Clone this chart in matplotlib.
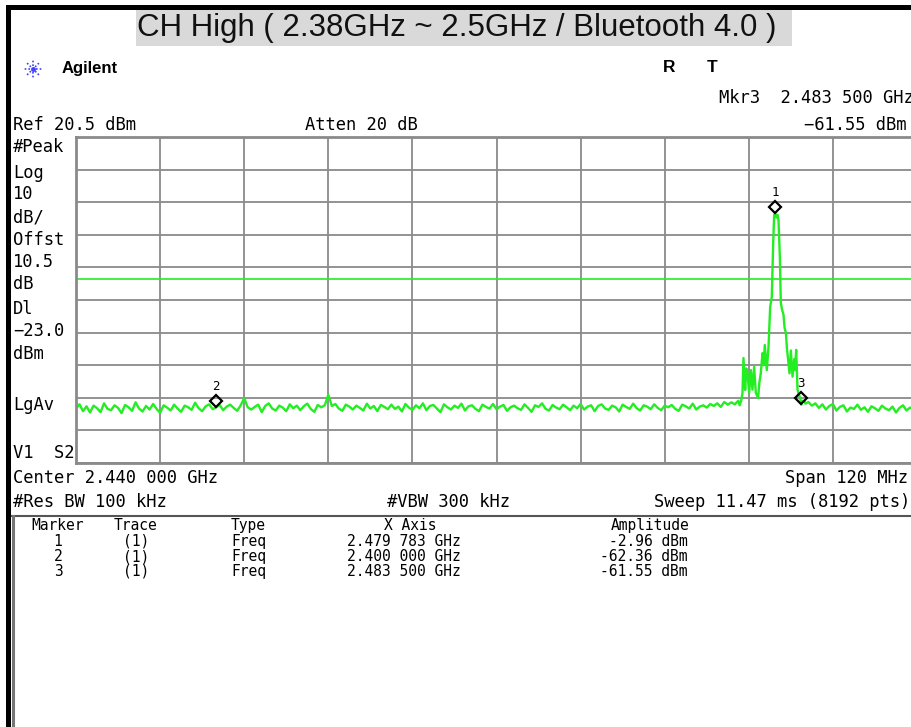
import numpy as np
import matplotlib
matplotlib.use("Agg")
import matplotlib.pyplot as plt
from matplotlib import transforms
from matplotlib.patches import Rectangle

# --- DATA ---
TITLE = "CH High ( 2.38GHz ~ 2.5GHz / Bluetooth 4.0 )"
START_MHZ = 2380.0
STOP_MHZ = 2500.0
REF_DBM = 20.5
DB_PER_DIV = 10
DISPLAY_LINE_DBM = -23.0

# noise floor left of the carrier, 0.5 MHz steps
floor_left_mhz = np.arange(2380.0, 2475.0, 0.5)
floor_left_dbm = [
    -62.8, -61.5, -63.6, -62.1, -64.0, -61.9, -62.7, -63.9, -61.2, -62.9,
    -63.3, -61.8, -62.6, -64.2, -61.7, -62.4, -63.5, -60.9, -62.8, -63.7,
    -62.0, -63.1, -61.4, -62.9, -64.1, -61.8, -62.5, -63.4, -61.6, -62.8,
    -63.8, -61.9, -62.4, -63.2, -61.0, -62.7, -63.6, -62.1, -61.5, -63.0,
    -62.4, -61.7, -63.3, -62.2, -61.6, -62.6, -63.5, -61.8, -59.6, -62.4,
    -63.1, -62.3, -61.6, -63.9, -62.0, -61.2, -62.8, -63.4, -61.9, -62.5,
    -63.6, -61.5, -62.7, -61.9, -63.3, -62.1, -61.3, -62.9, -63.8, -61.7,
    -62.4, -61.8, -58.6, -62.0, -61.4, -62.8, -63.5, -61.6, -62.2, -63.1,
    -61.9, -62.6, -63.4, -61.3, -62.8, -62.0, -63.6, -61.7, -62.3, -63.0,
    -61.6, -62.9, -62.2, -63.7, -61.4, -62.5, -63.2, -61.8, -62.7, -61.2,
    -63.3, -62.0, -61.7, -62.8, -63.9, -61.5, -62.4, -63.1, -61.9, -62.6,
    -61.3, -63.4, -62.1, -61.8, -62.9, -63.6, -61.6, -62.3, -62.8, -61.4,
    -63.0, -62.2, -61.7, -63.5, -62.4, -61.9, -62.7, -63.2, -61.5, -62.6,
    -63.8, -61.8, -62.3, -61.2, -62.9, -63.4, -61.7, -62.5, -63.0, -61.6,
    -62.4, -63.3, -61.9, -62.7, -61.4, -63.1, -62.2, -61.8, -63.6, -62.0,
    -61.5, -62.8, -63.2, -61.9, -62.4, -63.7, -61.6, -62.3, -62.9, -61.3,
    -62.7, -63.4, -61.8, -62.2, -63.0, -61.5, -62.6, -63.3, -61.9, -62.4,
    -61.7, -62.9, -63.5, -61.6, -62.1, -62.8, -61.3, -63.1, -62.2, -61.8,
    -62.5, -61.4, -62.0, -61.2, -62.3, -60.8, -61.6, -60.9, -61.5, -60.4,
]

# carrier region
peak_mhz = [
    2474.7, 2474.9, 2475.1, 2475.24, 2475.48, 2475.65, 2475.81, 2476.05,
    2476.29, 2476.52, 2476.76, 2477.0, 2477.33, 2477.5, 2477.71, 2477.95,
    2478.1, 2478.28, 2478.57, 2478.81, 2479.05, 2479.28, 2479.48, 2479.62,
    2479.783, 2479.95, 2480.1, 2480.24, 2480.43, 2480.57, 2480.75, 2480.95,
    2481.1, 2481.29, 2481.45, 2481.62, 2481.81, 2482.0, 2482.24, 2482.48,
    2482.6, 2482.76, 2482.95, 2483.15, 2483.33, 2483.5, 2483.7, 2483.9,
    2484.1,
]
peak_dbm = [
    -61.8, -60.5, -58.0, -47.3, -57.1, -50.5, -51.9, -58.0,
    -51.0, -57.0, -50.0, -58.0, -59.6, -55.0, -52.0, -45.8,
    -49.5, -43.3, -51.0, -44.0, -31.6, -28.6, -12.0, -3.4,
    -2.96, -4.2, -3.4, -5.0, -16.3, -30.4, -32.5, -34.0,
    -38.0, -39.6, -44.5, -47.9, -52.0, -45.0, -53.0, -47.6,
    -51.0, -44.8, -57.0, -58.5, -59.6, -61.55, -60.4, -60.5,
    -61.3,
]

# noise floor right of the carrier
floor_right_mhz = np.arange(2484.5, 2500.01, 0.5)
floor_right_dbm = [
    -60.8, -61.9, -61.2, -62.6, -61.5, -63.1, -62.0, -61.4, -63.4, -62.3,
    -61.8, -63.7, -62.5, -62.9, -61.6, -63.2, -62.4, -63.8, -62.1, -62.7,
    -63.5, -61.9, -62.8, -63.3, -62.2, -64.0, -62.6, -61.8, -63.4, -62.5,
    -63.0, -62.2,
]

marker_ids = ["1", "2", "3"]
marker_mhz = [2479.783, 2400.000, 2483.500]
marker_dbm = [-2.96, -62.36, -61.55]
marker_trace = ["(1)", "(1)", "(1)"]
marker_type = ["Freq", "Freq", "Freq"]

left_labels = ["#Peak", "Log", "10", "dB/", "Offst", "10.5", "dB",
               "Dl", "\u221223.0", "dBm", "LgAv"]
left_label_y = [147, 173, 194, 217, 240, 262, 284, 309, 331, 354, 405]

MONO = "DejaVu Sans Mono"
GRID = "#8a8a8a"
GREEN = "#22ee22"


def ghz_text(mhz):
    s = f"{mhz / 1000:.6f}"
    return f"{s[:5]} {s[5:]} GHz"


def main():
    W, H = 912, 727
    fig = plt.figure(figsize=(W / 100, H / 100), dpi=100)
    fig.patch.set_facecolor("white")

    # overlay in pixel coordinates for the screen furniture
    ov = fig.add_axes([0, 0, 1, 1])
    ov.set_xlim(0, W)
    ov.set_ylim(H, 0)
    ov.axis("off")

    # black frame, title band
    ov.add_patch(Rectangle((6, 5), W - 6, 5, color="black", lw=0))
    ov.add_patch(Rectangle((6, 5), 5, H - 5, color="black", lw=0))
    ov.add_patch(Rectangle((136, 10), 656, 36, color="#d9d9d9", lw=0))
    ov.text(137, 28, TITLE, family="Liberation Sans", fontsize=22.5,
            va="center", ha="left", color="#111111")

    # Agilent logo (dotted starburst)
    for ang in np.deg2rad([0, 45, 90, 135, 180, 225, 270, 315]):
        ov.plot([33 + 3 * np.cos(ang), 33 + 10 * np.cos(ang)],
                [69 + 3 * np.sin(ang), 69 + 10 * np.sin(ang)],
                color="#4040ff", lw=1.2, ls=(0, (1, 1.2)))
    ov.plot([33], [69], marker="o", ms=2.5, color="#4040ff")
    ov.text(62, 69, "Agilent", family="Liberation Sans", weight="bold",
            fontsize=12, va="center", ha="left")
    ov.text(669, 68, "R", family="Liberation Sans", weight="bold",
            fontsize=12.5, va="center", ha="center")
    ov.text(712, 68, "T", family="Liberation Sans", weight="bold",
            fontsize=12.5, va="center", ha="center")

    fs = 12.3
    ov.text(719, 98, f"Mkr3  {ghz_text(marker_mhz[2])}", family=MONO,
            fontsize=fs, va="center", ha="left")
    ov.text(907, 125, f"\u2212{abs(marker_dbm[2]):.2f} dBm", family=MONO,
            fontsize=fs, va="center", ha="right")
    ov.text(13, 125, f"Ref {REF_DBM} dBm", family=MONO, fontsize=fs,
            va="center", ha="left")
    ov.text(305, 125, "Atten 20 dB", family=MONO, fontsize=fs,
            va="center", ha="left")

    for lab, y in zip(left_labels, left_label_y):
        ov.text(13, y, lab, family=MONO, fontsize=fs, va="center", ha="left")
    ov.text(13, 453, "V1  S2", family=MONO, fontsize=fs, va="center",
            ha="left")

    ov.text(13, 478, "Center 2.440 000 GHz", family=MONO, fontsize=fs,
            va="center", ha="left")
    ov.text(908, 478, "Span 120 MHz", family=MONO, fontsize=fs,
            va="center", ha="right")
    ov.text(13, 502, "#Res BW 100 kHz", family=MONO, fontsize=fs,
            va="center", ha="left")
    ov.text(449, 502, "#VBW 300 kHz", family=MONO, fontsize=fs,
            va="center", ha="center")
    ov.text(910, 502, "Sweep 11.47 ms (8192 pts)", family=MONO, fontsize=fs,
            va="center", ha="right")

    # marker table
    ov.plot([12, W], [516, 516], color="#555555", lw=1.5)
    ov.plot([13, 13], [516, H], color="#777777", lw=2.2)
    tfs = 10.5
    hy = 530
    ov.text(58, hy, "Marker", family=MONO, fontsize=tfs, va="baseline", ha="center")
    ov.text(136, hy, "Trace", family=MONO, fontsize=tfs, va="baseline", ha="center")
    ov.text(231, hy, "Type", family=MONO, fontsize=tfs, va="baseline", ha="left")
    ov.text(410, hy, "X Axis", family=MONO, fontsize=tfs, va="baseline", ha="center")
    ov.text(650, hy, "Amplitude", family=MONO, fontsize=tfs, va="baseline", ha="center")
    for i in range(len(marker_ids)):
        y = hy + 16 + 15 * i
        ov.text(58, y, marker_ids[i], family=MONO, fontsize=tfs, va="baseline", ha="center")
        ov.text(136, y, marker_trace[i], family=MONO, fontsize=tfs, va="baseline", ha="center")
        ov.text(231, y, marker_type[i], family=MONO, fontsize=tfs, va="baseline", ha="left")
        ov.text(404, y, ghz_text(marker_mhz[i]), family=MONO, fontsize=tfs,
                va="baseline", ha="center")
        ov.text(688, y, f"{marker_dbm[i]:.2f} dBm", family=MONO, fontsize=tfs,
                va="baseline", ha="right")

    # --- spectrum graticule ---
    left, right, top, bottom = 76, 917, 137, 463
    ax = fig.add_axes([left / W, 1 - bottom / H, (right - left) / W,
                       (bottom - top) / H])
    ax.set_xlim(START_MHZ, STOP_MHZ)
    ax.set_ylim(REF_DBM - 10 * DB_PER_DIV, REF_DBM)
    ax.set_xticks(np.linspace(START_MHZ, STOP_MHZ, 11))
    ax.set_yticks(np.linspace(REF_DBM - 10 * DB_PER_DIV, REF_DBM, 11))
    ax.tick_params(length=0, labelbottom=False, labelleft=False)
    ax.grid(True, color=GRID, lw=1.3)
    for sp in ax.spines.values():
        sp.set_color(GRID)
        sp.set_linewidth(2)

    trace_mhz = np.concatenate([floor_left_mhz, peak_mhz, floor_right_mhz])
    trace_dbm = np.concatenate([floor_left_dbm, peak_dbm, floor_right_dbm])
    ax.axhline(DISPLAY_LINE_DBM, color=GREEN, lw=1.2)
    ax.plot(trace_mhz, trace_dbm, color=GREEN, lw=1.7)

    dia_tr = transforms.offset_copy(ax.transData, fig=fig, x=0, y=6, units="dots")
    lab_tr = transforms.offset_copy(ax.transData, fig=fig, x=0, y=21, units="dots")
    for mid, f, a in zip(marker_ids, marker_mhz, marker_dbm):
        ax.plot([f], [a], marker="D", ms=6.5, mfc="none", mec="black",
                mew=1.6, transform=dia_tr, clip_on=False)
        ax.text(f, a, mid, family=MONO, fontsize=9, ha="center",
                va="center", transform=lab_tr)

    fig.savefig("out.png", dpi=100)


if __name__ == "__main__":
    main()
